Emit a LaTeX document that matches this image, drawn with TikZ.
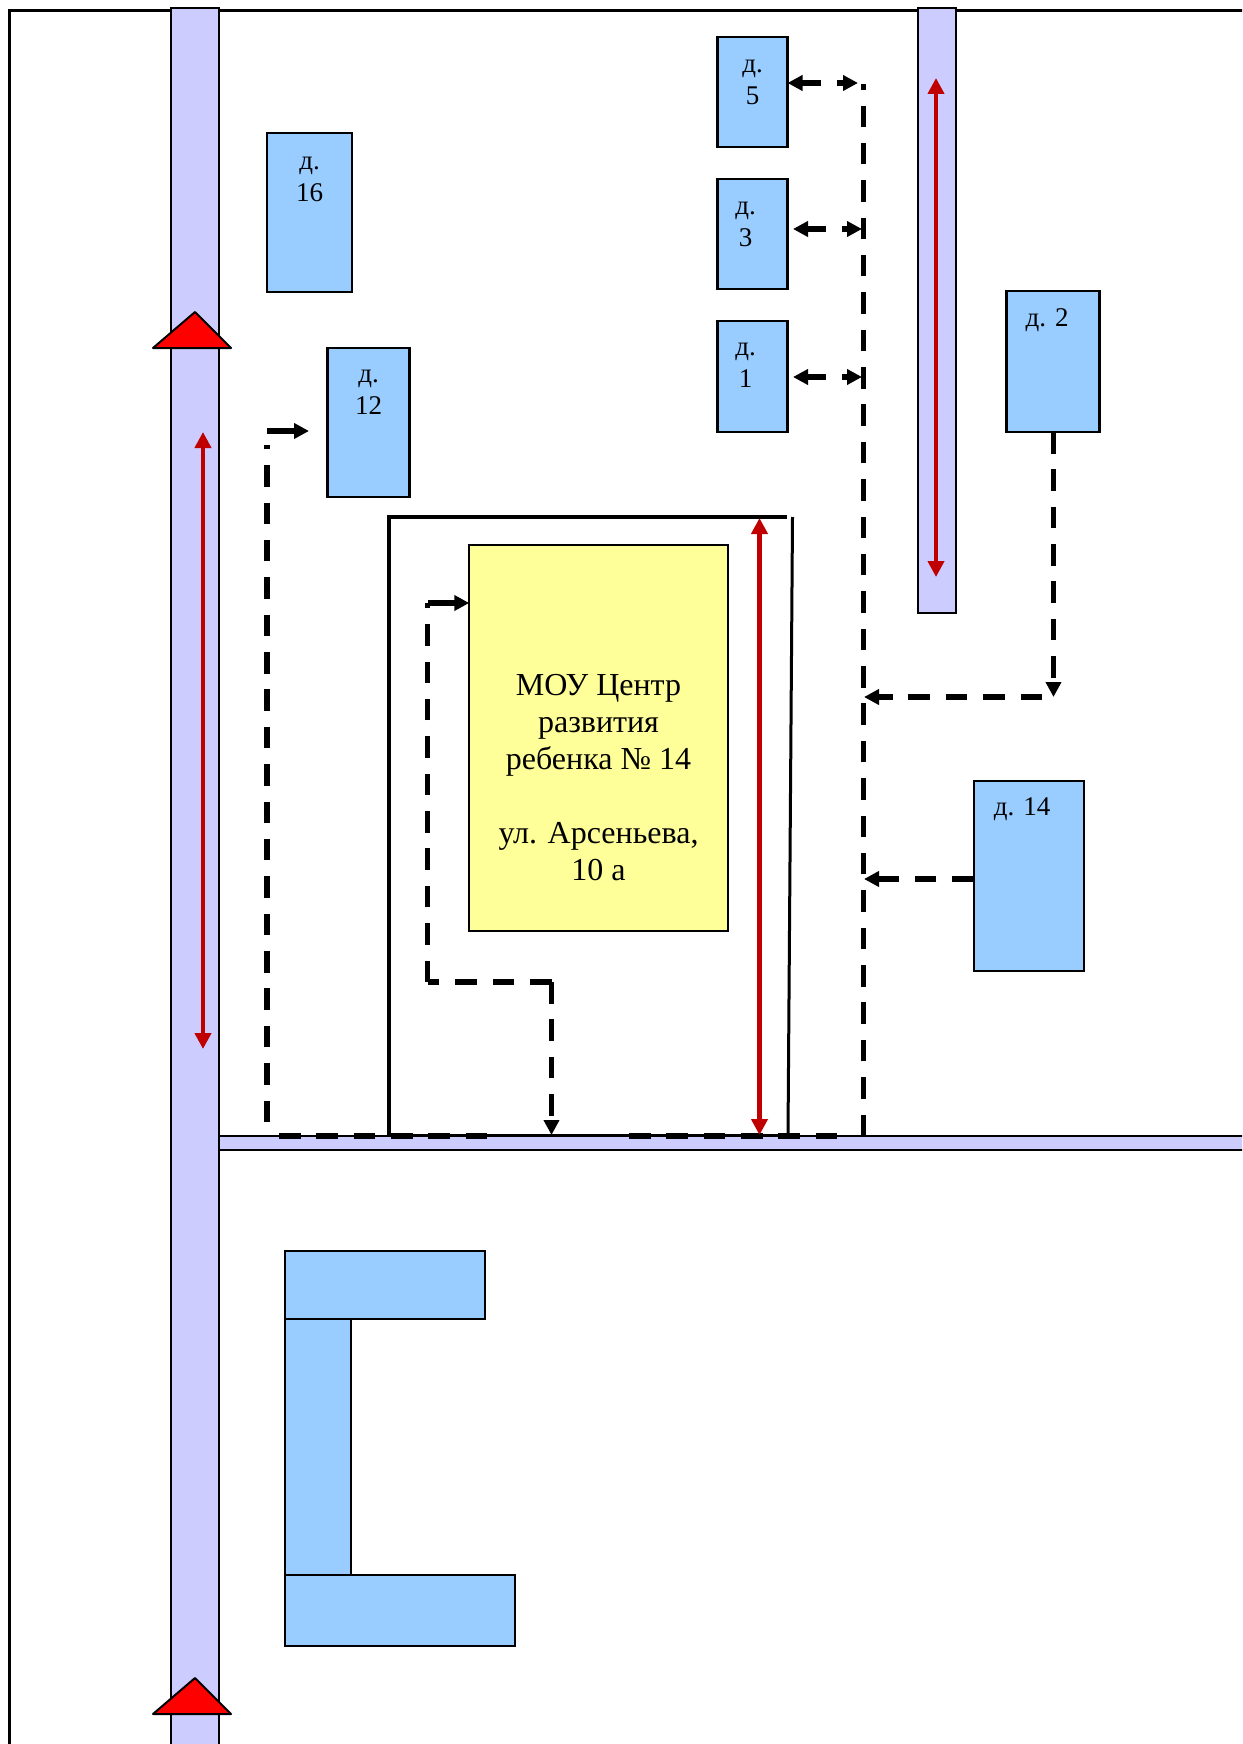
\documentclass[tikz,border=0pt]{standalone}
\usepackage{fontspec}
\usepackage{tikz}
\usetikzlibrary{arrows.meta}
\setmainfont{Liberation Serif}
\definecolor{roadc}{HTML}{CCCCFF}
\definecolor{housec}{HTML}{99CCFF}
\definecolor{schoolc}{HTML}{FFFF99}
\definecolor{redc}{HTML}{C00000}

\begin{document}
\begin{tikzpicture}[x=1pt,y=-1pt,
        road/.style={draw, line width=2.5pt, fill=roadc},
        hs/.style={rectangle, draw, line width=2.2pt, fill=housec,
                        inner sep=0pt, outer sep=0pt},
        lb/.style={inner sep=0pt, align=center,
                        font=\fontsize{27}{32}\selectfont},
        tri/.style={draw, line width=2pt, fill=red, line join=round},
        dl/.style={line width=5.5pt, dash pattern=on 21.5pt off 15.87pt,
                        >={Triangle[length=15pt,width=15pt]}},
        ds/.style={line width=5.5pt, dash pattern=on 19pt off 16pt,
                        >={Triangle[length=15pt,width=15pt]}},
        sl/.style={line width=5.5pt, >={Triangle[length=15pt,width=15pt]}},
        rl/.style={line width=4.8pt, color=redc, <->,
                        >={Triangle[length=16pt,width=16pt]}},
        fc/.style={line width=3.5pt}]
    \path[use as bounding box, clip] (0,0) rectangle (1242,1744);
    % frame
    \draw[line width=3pt] (1260,10.5) -- (9.5,10.5) -- (9.5,1760);
    % roads
    \draw[road] (171,8) rectangle (219,1760);
    \draw[road] (918,8) rectangle (956,613);
    \draw[road] (219,1136) rectangle (1260,1150);
    \draw[tri] (195,312) -- (231,348) -- (153,348) -- cycle;
    \draw[tri] (195,1678) -- (231,1714) -- (153,1714) -- cycle;
    % houses
    \foreach \n/\x/\y/\w/\h in {5/752.5/92/70/110, 3/752.5/234/70/110, 1/752.5/376.5/70/111,
            2/1053/361.5/93/141, 16/309.5/212.5/85/158.5, 12/368.5/422.5/82/149,
            14/1029/876/110.5/190, a/385/1285/200.5/68, b/318/1447/66.5/256,
            c/400/1610.5/230.5/71} {
        \node[hs, minimum width=\w pt, minimum height=\h pt] (h\n) at (\x,\y) {};
    }
    \node[hs, fill=schoolc, minimum width=258.5pt, minimum height=386pt] (sc) at (598.5,738) {};
    % labels
    \node[lb] (t5) at (752.5,82.5) {д.\\5};
    \node[lb] (t3) at (745.5,224.5) {д.\\3};
    \node[lb] (t1) at (745.5,365) {д.\\1};
    \node[lb] (t2) at (1047,320) {д. 2};
    \node[lb] (t16) at (309.5,179) {д.\\16};
    \node[lb] (t12) at (368.5,392.5) {д.\\12};
    \node[lb] (t14) at (1022,809) {д. 14};
    \node[inner sep=0pt, align=center, font=\fontsize{32}{37}\selectfont] (st) at (598.5,778)
        {МОУ Центр\\развития\\ребенка № 14\\[37pt]ул. Арсеньева,\\10 а};
    % fence
    \draw[fc] (389,1135) -- (389,517) -- (787,517);
    \draw[line width=3pt] (792.5,517) -- (788,1135);
    \draw[line width=3pt] (389,1135) -- (788,1135);
    % coordinates of the free ends
    \coordinate (a5) at (858,83);
    \coordinate (b3) at (793,229);
    \coordinate (a3) at (862,229);
    \coordinate (b1) at (793,377);
    \coordinate (a1) at (862,377);
    \coordinate (m0) at (863.5,1136);
    \coordinate (m1) at (863.5,84);
    \coordinate (m2) at (864,697);
    \coordinate (m3) at (864,879);
    \coordinate (c2) at (1053.5,697);
    \coordinate (c3) at (1042,697);
    \coordinate (l0) at (267,1122);
    \coordinate (l1) at (267,445);
    \coordinate (l2) at (267,431);
    \coordinate (l3) at (309,431);
    \coordinate (s0) at (551.5,1135);
    \coordinate (s1) at (551.5,982);
    \coordinate (s2) at (427.5,982);
    \coordinate (s3) at (427.5,603);
    \coordinate (s4) at (428,603);
    \coordinate (g0) at (279,1136);
    \coordinate (g1) at (487,1136);
    \coordinate (g2) at (629,1136);
    \coordinate (g3) at (837,1136);
    % walkways
    \draw[ds,<->] (h5.east |- a5) -- (a5);
    \draw[ds,<->] (b3) -- (a3);
    \draw[ds,<->] (b1) -- (a1);
    \draw[dl] (m0) -- (m1);
    \draw[dl,->] (h2.south -| c2) -- (c2);
    \draw[dl,->] (c3) -- (m2);
    \draw[dl,->] (h14.west |- m3) -- (m3);
    \draw[dl] (l0) -- (l1);
    \draw[sl,->] (l2) -- (l3);
    \draw[dl] (g0) -- (g1);
    \draw[dl] (g2) -- (g3);
    \draw[dl,->] (s1) -- (s0);
    \draw[dl] (s1) -- (s2);
    \draw[dl] (s2) -- (s3);
    \draw[sl,->] (s4) -- (sc.west |- s4);
    % traffic
    \coordinate (r0) at (203,432);
    \coordinate (r1) at (203,1049);
    \coordinate (r2) at (936,78);
    \coordinate (r3) at (936,577);
    \coordinate (r4) at (759.5,518);
    \coordinate (r5) at (759.5,1135);
    \draw[rl] (r0) -- (r1);
    \draw[rl] (r2) -- (r3);
    \draw[rl] (r4) -- (r5);
\end{tikzpicture}
\end{document}
